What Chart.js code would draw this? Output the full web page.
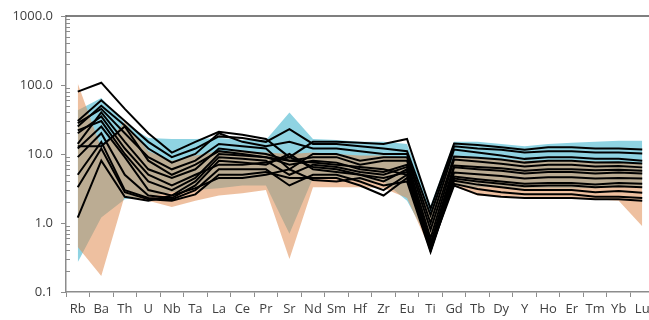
<!DOCTYPE html>
<html>
<head>
<meta charset="utf-8">
<script src="https://cdn.jsdelivr.net/npm/chart.js@4/dist/chart.umd.min.js"></script>
<style>
html,body{margin:0;padding:0;background:#fff;overflow:hidden;}
#wrap{width:654px;height:320px;}
</style>
</head>
<body>
<div id="wrap"><canvas id="c" width="654" height="320"></canvas></div>
<script>
const categories = ["Rb","Ba","Th","U","Nb","Ta","La","Ce","Pr","Sr","Nd","Sm","Hf","Zr","Eu","Ti","Gd","Tb","Dy","Y","Ho","Er","Tm","Yb","Lu"];
const yTicks = [0.1, 1, 10, 100, 1000];

// shaded reference fields
const blueUpper   = [43, 65, 28, 17, 16.5, 16.5, 17, 16, 16, 40, 16.5, 16, 15, 15, 14, 1.8, 15, 15, 14, 13, 14, 14.5, 15, 15.5, 15.5];
const blueLower   = [0.27, 1.2, 2.2, 2.4, 2.8, 3.0, 3.2, 3.5, 3.5, 0.7, 4.5, 4.5, 4.2, 4.0, 2.1, 0.5, 3.5, 3.3, 3.3, 3.2, 3.2, 3.2, 3.2, 3.3, 3.3];
const orangeUpper = [105, 12, 29, 11, 8, 9.5, 11, 11, 10.5, 10, 10.5, 10, 9.5, 9.5, 9, 1.4, 9.5, 9, 8.5, 8, 8, 8, 7.8, 7.5, 7.3];
const orangeLower = [0.45, 0.17, 2.5, 2.1, 1.7, 2.1, 2.5, 2.7, 3.0, 0.3, 3.3, 3.3, 3.3, 3.2, 2.3, 0.4, 3.4, 2.5, 2.4, 2.4, 2.3, 2.3, 2.2, 2.1, 0.9];

// sample patterns
const s1  = [80, 108, 45, 20, 10.5, 15, 21, 19, 16.5, 9, 15, 15, 14.5, 14, 16.5, 1.6, 14.2, 13.5, 12.5, 11.5, 12.5, 12.5, 12, 12, 11.6];
const s2  = [30, 60, 30, 15, 9, 12, 18, 17, 15, 23, 14, 14, 13, 12, 11, 1.3, 12.9, 12, 11.5, 10.5, 11, 11, 10.5, 10.5, 10.2];
const s3  = [25, 50, 26, 12, 7.5, 10, 20, 15, 13, 15, 12, 12, 11, 10, 10, 1.0, 11.6, 10.5, 9.5, 8.5, 9, 9, 8.5, 8.5, 8.0];
const s4  = [28, 45, 20, 9, 6, 8, 14, 13, 12, 6, 10, 10, 8, 9, 9, 0.8, 9.2, 8.8, 8.3, 7.5, 8, 8, 7.5, 7.6, 7.3];
const s5  = [14, 40, 15, 6, 4.5, 6, 12, 11, 10, 8, 9, 9, 7, 8, 8, 0.6, 8.3, 7.8, 7.2, 6.6, 7, 7, 6.6, 6.7, 6.4];
const s6  = [22, 30, 10, 4, 3, 4.5, 10, 9.5, 9, 7, 8, 7.5, 6, 5.5, 7, 0.5, 6.8, 6.5, 6.2, 5.7, 6, 6, 5.8, 5.9, 5.7];
const s7  = [12, 25, 9, 3, 2.5, 4, 9, 8.5, 8, 5, 7, 6.5, 5.5, 5, 6.5, 0.45, 6.4, 6, 5.7, 5.2, 5.5, 5.5, 5.2, 5.4, 5.2];
const s8  = [9, 20, 5, 2.5, 2.3, 3.5, 8, 7.5, 7, 10, 6, 5.5, 5, 4.5, 5.5, 0.45, 5.4, 5.1, 4.8, 4.4, 4.6, 4.6, 4.4, 4.5, 4.4];
const s9  = [5, 15, 3, 2.3, 2.2, 3, 6, 6, 6, 3.5, 5, 5, 4, 3, 5, 0.4, 4.7, 4.3, 4.0, 3.7, 3.8, 3.8, 3.6, 3.8, 3.7];
const s10 = [3.3, 12, 2.8, 2.2, 2.1, 2.6, 5, 5, 5.5, 4.5, 4.5, 4.5, 3.5, 2.5, 4.5, 0.4, 4.4, 4, 3.7, 3.4, 3.5, 3.5, 3.3, 3.4, 3.3];
const s11 = [1.2, 8, 2.4, 2.1, 2.5, 3.2, 4.5, 4.5, 5, 6, 4.2, 4, 4.5, 3.5, 4, 0.38, 4.1, 3.6, 3.3, 3.0, 3.0, 3.0, 2.8, 2.9, 2.75];
const s12 = [20, 35, 12, 5, 3.5, 5, 7, 7, 7.5, 9, 6.5, 6, 5, 4, 6, 0.5, 3.7, 3.1, 2.8, 2.6, 2.6, 2.6, 2.4, 2.4, 2.3];
const s13 = [13, 13, 25, 8, 5, 7, 11, 10, 9, 8, 7.5, 7, 6.5, 6, 5, 0.42, 3.5, 2.6, 2.4, 2.3, 2.3, 2.3, 2.2, 2.2, 2.1];
const samples = [s1, s2, s3, s4, s5, s6, s7, s8, s9, s10, s11, s12, s13];

const datasets = [];
// index 0,1: blue band
datasets.push({data: blueUpper, fill: 1, backgroundColor: 'rgb(143,211,226)', borderWidth: 0, pointRadius: 0, order: 3});
datasets.push({data: blueLower, fill: false, borderWidth: 0, pointRadius: 0, order: 3});
// index 2,3: orange band
datasets.push({data: orangeUpper, fill: 3, backgroundColor: 'rgba(224,140,82,0.55)', borderWidth: 0, pointRadius: 0, order: 2});
datasets.push({data: orangeLower, fill: false, borderWidth: 0, pointRadius: 0, order: 2});
samples.forEach(s => datasets.push({data: s, fill: false, borderColor: '#000', borderWidth: 2, pointRadius: 0, tension: 0, order: 0}));

const extras = {
  id: 'extras',
  afterDraw(chart) {
    const ctx = chart.ctx, y = chart.scales.y, a = chart.chartArea;
    ctx.save();
    ctx.strokeStyle = '#8c8c8c';
    ctx.lineWidth = 1;
    ctx.beginPath();
    for (let i = 0; i < yTicks.length - 1; i++) {
      for (let m = 2; m <= 9; m++) {
        const py = Math.round(y.getPixelForValue(yTicks[i] * m)) + 0.5;
        ctx.moveTo(a.left, py);
        ctx.lineTo(a.left + 4, py);
      }
    }
    ctx.stroke();
    ctx.strokeStyle = '#555';
    ctx.lineWidth = 1.5;
    ctx.beginPath();
    ctx.moveTo(a.left, a.top);
    ctx.lineTo(a.right, a.top);
    ctx.stroke();
    ctx.restore();
  }
};

new Chart(document.getElementById('c'), {
  type: 'line',
  data: {labels: categories, datasets},
  plugins: [extras],
  options: {
    responsive: false,
    animation: false,
    layout: {padding: {top: 16, right: 0, left: 0, bottom: 0}},
    plugins: {legend: {display: false}, tooltip: {enabled: false}},
    scales: {
      x: {
        type: 'category',
        offset: true,
        grid: {offset: true, drawOnChartArea: false, drawTicks: true, tickLength: 5, color: '#8c8c8c'},
        border: {display: true, color: '#8c8c8c', width: 1.5},
        ticks: {color: '#404040', font: {family: 'Open Sans', size: 13}, padding: 4, maxRotation: 0, autoSkip: false},
        afterFit: s => { s.height = 28; }
      },
      y: {
        type: 'logarithmic',
        min: yTicks[0],
        max: yTicks[yTicks.length - 1],
        afterBuildTicks: s => { s.ticks = yTicks.map(v => ({value: v})); },
        grid: {drawOnChartArea: false, drawTicks: true, tickLength: 5, color: '#8c8c8c'},
        border: {display: true, color: '#8c8c8c', width: 1.5},
        ticks: {color: '#404040', font: {family: 'Open Sans', size: 13}, padding: 8, callback: v => Number(v).toFixed(1)},
        afterFit: s => { s.width = 66; }
      }
    }
  }
});
</script>
</body>
</html>
